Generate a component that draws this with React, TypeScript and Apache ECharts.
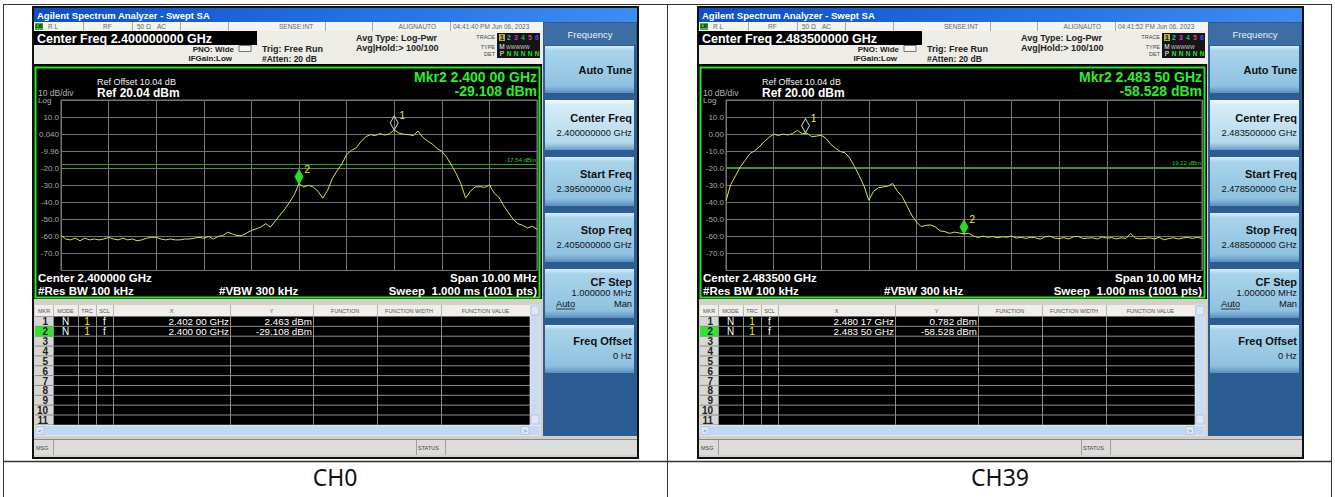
import React, { useEffect, useRef } from "react";
import * as echarts from "echarts";

const UI_FONT = "'Liberation Sans', Arial, Helvetica, sans-serif";
const CAPTION_FONT = "'Noto Sans', 'Open Sans', sans-serif";

// ------------------------------------------------------------------ data
const channelNames = ["CH0", "CH39"];
const timestamps = ["04:41:40 PM Jun 06, 2023", "04:41:52 PM Jun 06, 2023"];
const centerFreqLong = ["2.400000000 GHz", "2.483500000 GHz"];
const startFreqLong = ["2.395000000 GHz", "2.478500000 GHz"];
const stopFreqLong = ["2.405000000 GHz", "2.488500000 GHz"];
const centerFreqShort = ["2.400000 GHz", "2.483500 GHz"];
const refOffsetText = "Ref Offset 10.04 dB";
const refLevels = [20.04, 20.0];
const refLevelText = ["Ref 20.04 dBm", "Ref 20.00 dBm"];
const displayLineLevels = [-17.54, -19.22];
const displayLineText = ["-17.54 dBm", "-19.22 dBm"];
const activeMarkerFreqText = ["Mkr2 2.400 00 GHz", "Mkr2 2.483 50 GHz"];
const activeMarkerLevelText = ["-29.108 dBm", "-58.528 dBm"];

const ch0YTickLabels = ["", "10.0", "0.040", "-9.96", "-20.0", "-30.0", "-40.0", "-50.0", "-60.0", "-70.0", ""];
const ch39YTickLabels = ["", "10.0", "0.00", "-10.0", "-20.0", "-30.0", "-40.0", "-50.0", "-60.0", "-70.0", ""];

// sweep offsets from the centre frequency (MHz)
const sweepStartMHz = -5;
const sweepStepMHz = 0.1;
const spanHalfMHz = 5;

// trace level (dBm) every 0.1 MHz from start to stop
const ch0Trace = [
  -59.5, -61.5, -62, -61, -62.5, -61, -62, -61.5, -62, -61.5,
  -60.5, -61.5, -62, -61, -62, -61.5, -62.5, -62, -61, -60.5,
  -60.5, -61.5, -62, -61.5, -62, -62, -61.5, -61.5, -61, -60.5,
  -61, -60, -61.5, -60, -59.5, -57.5, -58.5, -59.5, -59.5, -58,
  -56.5, -55.5, -54.5, -52.5, -54.5, -51, -47.5, -44, -40, -35.5,
  -29.1, -31, -30, -31, -33.5, -37.5, -33, -26, -21.5, -17.5,
  -12, -9.5, -8, -4.5, -1.5, -0.3, -0.8, 0.3, -0.5, 0.2,
  2.46, 0.6, 0, -0.3, -0.8, 1.8, -1.8, -4, -5.8, -8.3,
  -10, -13.5, -18, -23, -29, -37.5, -33.5, -31, -30.8, -31.2,
  -29.8, -34.5, -37, -42, -46, -50, -52.5, -53.5, -55, -54, -55.8,
];
const ch39Trace = [
  -39, -29.5, -24.5, -19.2, -15.5, -11.5, -9.8, -7.5, -4.5, -2,
  0, -0.8, 0, -0.5, 0.3, 2.2, 0.2, 0.5, -1.5, -1.2,
  -0.6, -2.5, -6, -8.3, -10.2, -11, -14, -19, -24.5, -30.5,
  -38.8, -33.5, -31.5, -31, -30.5, -29, -33.5, -36.5, -42, -47.5,
  -51.5, -54.3, -53.5, -53.3, -54.5, -56.8, -57.2, -58.2, -57.5, -58,
  -58.5, -58.2, -59.8, -60.6, -59.8, -60.5, -60, -60.8, -60.2, -60.5,
  -59.8, -61, -60.5, -61.2, -60.5, -60.8, -61.6, -60.3, -59.8, -61,
  -61.3, -60.7, -61.5, -60.2, -60, -61.2, -61, -60.8, -61.5, -60.3,
  -61, -60.7, -61.5, -60.8, -61.2, -58.3, -61, -61.5, -61.2, -60.8,
  -61.5, -60.5, -62, -61.3, -60.8, -61.5, -60.9, -60.6, -61.2, -60.5, -61.2,
];

const ch0MarkerOffsetMHz = [2.0, 0.0];
const ch0MarkerLevel = [2.463, -29.108];
const ch39MarkerOffsetMHz = [-3.33, 0.0];
const ch39MarkerLevel = [0.782, -58.528];

const ch0MarkerXText = ["2.402 00 GHz", "2.400 00 GHz"];
const ch0MarkerYText = ["2.463 dBm", "-29.108 dBm"];
const ch39MarkerXText = ["2.480 17 GHz", "2.483 50 GHz"];
const ch39MarkerYText = ["0.782 dBm", "-58.528 dBm"];

const tableHeaders = ["MKR", "MODE", "TRC", "SCL", "X", "Y", "FUNCTION", "FUNCTION WIDTH", "FUNCTION VALUE"];
const markerRowNumbers = ["1", "2", "3", "4", "5", "6", "7", "8", "9", "10", "11"];

const channels = [
  { trace: ch0Trace, yLabels: ch0YTickLabels, mOff: ch0MarkerOffsetMHz, mLev: ch0MarkerLevel, mX: ch0MarkerXText, mY: ch0MarkerYText },
  { trace: ch39Trace, yLabels: ch39YTickLabels, mOff: ch39MarkerOffsetMHz, mLev: ch39MarkerLevel, mX: ch39MarkerXText, mY: ch39MarkerYText },
];

// ------------------------------------------------------------------ layout
const panelOffsets = [0, 665];

const rect = (x: number, y: number, w: number, h: number, fill: any, z = 1, extra: any = {}) => ({
  type: "rect", silent: true, z, shape: { x, y, width: w, height: h }, style: { fill, ...extra },
});
const line = (x1: number, y1: number, x2: number, y2: number, stroke: string, lw = 1, z = 2) => ({
  type: "line", silent: true, z, shape: { x1, y1, x2, y2 }, style: { stroke, lineWidth: lw },
});
const text = (x: number, y: number, s: string, o: any = {}) => ({
  type: "text", silent: true, z: o.z ?? 3, x, y,
  style: {
    text: s, fill: o.fill ?? "#000", fontSize: o.size ?? 9, fontWeight: o.weight ?? "normal",
    fontFamily: o.family ?? UI_FONT, align: o.align ?? "left", textAlign: o.align ?? "left",
    verticalAlign: "middle", textVerticalAlign: "middle",
  },
});

function panelGraphics(k: number, dx: number) {
  const X = (x: number) => x + dx;
  const ch = channels[k];
  const g: any[] = [];
  // window frame
  g.push(rect(X(33), 7, 605, 451, "#d4d0c8", 1, { stroke: "#111", lineWidth: 2 }));
  // title bar
  g.push(rect(X(34), 8, 603, 14, new echarts.graphic.LinearGradient(0, 0, 1, 0, [
    { offset: 0, color: "#0d4fc8" }, { offset: 0.55, color: "#2470e4" }, { offset: 1, color: "#3c8ef2" },
  ]), 1));
  g.push(text(X(37), 15, "Agilent Spectrum Analyzer - Swept SA", { fill: "#fff", size: 9.5, weight: "bold" }));
  // status row
  g.push(rect(X(34), 22, 509, 9, "#f4f3ee", 1));
  [83, 132, 180, 228, 325, 372, 450].forEach((sx) => g.push(line(X(sx) + 0.5, 22, X(sx) + 0.5, 31, "#a8a8a8")));
  g.push(rect(X(35), 23, 8, 7, "#3cb83c", 2));
  g.push(text(X(39), 26.5, "LXI", { size: 4.5, align: "center", weight: "bold" }));
  const st = { size: 6.5, fill: "#666" };
  g.push(text(X(48), 26.5, "R L", st));
  g.push(text(X(103), 26.5, "RF", st));
  g.push(text(X(137), 26.5, "50 Ω", st));
  g.push(text(X(157), 26.5, "AC", st));
  g.push(text(X(279), 26.5, "SENSE:INT", st));
  g.push(text(X(436), 26.5, "ALIGNAUTO", { ...st, align: "right" }));
  g.push(text(X(453), 26.5, timestamps[k], st));
  // settings header
  g.push(rect(X(34), 31, 509, 33, "#edece6", 1));
  g.push(rect(X(34), 31, 223, 14, "#000", 2));
  g.push(text(X(37), 38.5, "Center Freq " + centerFreqLong[k], { fill: "#fff", size: 12.5, weight: "bold" }));
  const sb = { size: 8, weight: "bold", fill: "#222" };
  g.push(text(X(234), 49, "PNO: Wide", { ...sb, align: "right" }));
  g.push(text(X(232), 58.5, "IFGain:Low", { ...sb, align: "right" }));
  g.push(rect(X(239), 45.5, 12, 6, "#f4f4f4", 2, { stroke: "#555", lineWidth: 0.8 }));
  g.push(text(X(262), 48.5, "Trig: Free Run", { size: 9, weight: "bold", fill: "#222" }));
  g.push(text(X(262), 58.5, "#Atten: 20 dB", { size: 8.5, weight: "bold", fill: "#222" }));
  g.push(text(X(356), 37.5, "Avg Type: Log-Pwr", { size: 9, weight: "bold", fill: "#222" }));
  g.push(text(X(356), 47.5, "Avg|Hold:> 100/100", { size: 9, weight: "bold", fill: "#222" }));
  g.push(text(X(495), 37, "TRACE", { size: 5.5, fill: "#444", align: "right" }));
  g.push(text(X(495), 46.5, "TYPE", { size: 5.5, fill: "#444", align: "right" }));
  g.push(text(X(495), 53.5, "DET", { size: 5.5, fill: "#444", align: "right" }));
  g.push(rect(X(497), 33, 43, 25, "#151515", 2));
  g.push(rect(X(499), 34, 6, 7, "#b4ae3c", 3));
  const tColors = ["#111", "#22c0c0", "#c040c0", "#22b060", "#d04488", "#4a4aff"];
  tColors.forEach((c, i) => g.push(text(X(502 + i * 7), 37.5, String(i + 1), { size: 7, fill: c, align: "center", weight: "bold", z: 4 })));
  g.push(text(X(502), 46.5, "M", { size: 6.5, fill: "#fff", align: "center" }));
  g.push(text(X(506), 46.5, "WWWWW", { size: 5, fill: "#cfcfcf" }));
  g.push(text(X(502), 53.5, "P", { size: 6.5, fill: "#fff", align: "center" }));
  for (let i = 1; i < 6; i++) g.push(text(X(502 + i * 7), 53.5, "N", { size: 6.5, fill: "#2edc2e", align: "center", weight: "bold" }));
  // plot region
  g.push(rect(X(34), 64, 508, 235, "#000", 1));
  g.push(rect(X(35.5), 67.5, 504, 230, "none", 2, { stroke: "#27e627", lineWidth: 2 }));
  g.push(text(X(97), 82, refOffsetText, { size: 9, fill: "#f2f2f2" }));
  g.push(text(X(38), 93, "10 dB/div", { size: 8.5, fill: "#b4b4b4" }));
  g.push(text(X(97), 92.5, refLevelText[k], { size: 12, fill: "#fff", weight: "bold" }));
  g.push(text(X(38), 100.5, "Log", { size: 8, fill: "#b4b4b4" }));
  g.push(text(X(537), 76.5, activeMarkerFreqText[k], { size: 14, weight: "bold", fill: "#2cee2c", align: "right" }));
  g.push(text(X(537), 91, activeMarkerLevelText[k], { size: 14, weight: "bold", fill: "#2cee2c", align: "right" }));
  const bt = { size: 11.5, weight: "bold", fill: "#fff" };
  g.push(text(X(38), 278, "Center " + centerFreqShort[k], bt));
  g.push(text(X(537), 278, "Span 10.00 MHz", { ...bt, align: "right" }));
  g.push(text(X(38), 291, "#Res BW 100 kHz", bt));
  g.push(text(X(219), 291, "#VBW 300 kHz", bt));
  g.push(text(X(537), 291, "Sweep  1.000 ms (1001 pts)", { ...bt, align: "right" }));
  // marker table
  const cols = [35, 53, 78, 96, 113, 230, 313, 377, 441, 530];
  const bodyTop = 316.5, rowH = 9.85, nRows = 11;
  const bodyBottom = bodyTop + rowH * nRows;
  g.push(rect(X(35), 305, 505, 11.5, "#efeee8", 1));
  for (let c = 1; c < cols.length; c++) g.push(line(X(cols[c]) + 0.5, 305, X(cols[c]) + 0.5, 316.5, "#b8b8b0"));
  tableHeaders.forEach((h, c) => g.push(text(X((cols[c] + cols[c + 1]) / 2), 310.5, h, { size: 5.5, fill: "#555", align: "center" })));
  g.push(rect(X(35), bodyTop, 495, rowH * nRows, "#000", 1));
  g.push(rect(X(35), bodyTop, 18, rowH * nRows, "#d6d6d2", 2));
  g.push(rect(X(35), bodyTop + rowH, 18, rowH, "#2ee62e", 2));
  for (let r = 1; r < nRows; r++) g.push(line(X(35), bodyTop + rowH * r, X(530), bodyTop + rowH * r, "#8c8c8c", 1, 3));
  for (let c = 1; c < cols.length - 1; c++) g.push(line(X(cols[c]) + 0.5, bodyTop, X(cols[c]) + 0.5, bodyBottom, "#8c8c8c", 1, 3));
  markerRowNumbers.forEach((n, r) => g.push(text(X(48), bodyTop + rowH * r + rowH / 2 + 0.5, n, { size: 10, weight: "bold", fill: "#222", align: "right", z: 4 })));
  for (let r = 0; r < 2; r++) {
    const cy = bodyTop + rowH * r + rowH / 2 + 0.5;
    g.push(text(X(65.5), cy, "N", { size: 10, fill: "#fff", align: "center", z: 4 }));
    g.push(text(X(87), cy, "1", { size: 10, fill: "#f0f030", align: "center", z: 4 }));
    g.push(text(X(104.5), cy, "f", { size: 10, fill: "#fff", align: "center", z: 4 }));
    g.push(text(X(229), cy, ch.mX[r], { size: 9.8, fill: "#fff", align: "right", z: 4 }));
    g.push(text(X(312), cy, ch.mY[r], { size: 9.8, fill: "#fff", align: "right", z: 4 }));
  }
  // scrollbars
  g.push(rect(X(530), 305, 10, 120, "#cbdcf2", 2, { stroke: "#e8f0fa", lineWidth: 0.6 }));
  g.push(rect(X(531), 306, 8, 9, "#dde8f6", 3, { stroke: "#9ab4da", lineWidth: 0.6 }));
  g.push(rect(X(531), 415, 8, 9, "#dde8f6", 3, { stroke: "#9ab4da", lineWidth: 0.6 }));
  g.push(rect(X(35), 425.5, 505, 10, "#c3d8f4", 2, { stroke: "#eef3fb", lineWidth: 0.6 }));
  g.push(rect(X(36), 426.5, 8, 8, "#dde8f6", 3, { stroke: "#9ab4da", lineWidth: 0.6 }));
  g.push(rect(X(521), 426.5, 8, 8, "#dde8f6", 3, { stroke: "#9ab4da", lineWidth: 0.6 }));
  g.push(text(X(40), 430.5, "<", { size: 6, fill: "#3a5fa0", align: "center", z: 4 }));
  g.push(text(X(525), 430.5, ">", { size: 6, fill: "#3a5fa0", align: "center", z: 4 }));
  // msg bar
  g.push(rect(X(34), 440, 603, 15, "#dcdcda", 1));
  g.push(line(X(34), 439.5, X(637), 439.5, "#8a8a8a"));
  [53, 416, 445].forEach((sx) => g.push(line(X(sx) + 0.5, 440, X(sx) + 0.5, 455, "#a0a0a0")));
  g.push(text(X(36), 447.5, "MSG", { size: 5.5, fill: "#444" }));
  g.push(text(X(418), 447.5, "STATUS", { size: 5.5, fill: "#444" }));
  // softkey panel
  g.push(rect(X(543), 22, 94, 414, "#2c5d92", 1));
  g.push(rect(X(544), 23, 92, 22, "#3c6ea3", 2));
  g.push(text(X(590), 34, "Frequency", { size: 9.5, fill: "#e4f1fb", align: "center" }));
  const keys: [number, number, boolean][] = [[46, 93, false], [100, 150, true], [157, 206, false], [213, 262, false], [269, 318, false], [325, 373, false]];
  keys.forEach(([y0, y1, sel]) => {
    g.push(rect(X(545), y0, 89, y1 - y0, new echarts.graphic.LinearGradient(0, 0, 0, 1, sel ? [
      { offset: 0, color: "#f2fafd" }, { offset: 0.1, color: "#d6ecf6" }, { offset: 0.85, color: "#b4d9ec" }, { offset: 1, color: "#6b9cc8" },
    ] : [
      { offset: 0, color: "#d8eef8" }, { offset: 0.1, color: "#a9d3ea" }, { offset: 0.85, color: "#8fc2e0" }, { offset: 1, color: "#5b8dbf" },
    ]), 2));
  });
  const kt = { size: 11, weight: "bold", fill: "#111", align: "right" };
  const kv = { size: 9.3, fill: "#111", align: "right" };
  g.push(text(X(632), 70, "Auto Tune", kt));
  g.push(text(X(632), 118, "Center Freq", kt));
  g.push(text(X(632), 133, centerFreqLong[k], kv));
  g.push(text(X(632), 174, "Start Freq", kt));
  g.push(text(X(632), 189, startFreqLong[k], kv));
  g.push(text(X(632), 230, "Stop Freq", kt));
  g.push(text(X(632), 245, stopFreqLong[k], kv));
  g.push(text(X(632), 282, "CF Step", kt));
  g.push(text(X(632), 293, "1.000000 MHz", kv));
  g.push(text(X(556), 304, "Auto", { size: 9.3, fill: "#111" }));
  g.push(line(X(556), 309, X(575), 309, "#111", 0.8, 3));
  g.push(text(X(632), 304, "Man", kv));
  g.push(text(X(632), 341, "Freq Offset", kt));
  g.push(text(X(632), 356, "0 Hz", kv));
  return g;
}

function buildOption() {
  const graphics: any[] = [];
  // outer table lines
  graphics.push(line(3, 4.5, 1332, 4.5, "#333", 1, 0));
  graphics.push(line(3.5, 4, 3.5, 497, "#333", 1, 0));
  graphics.push(line(667.5, 4, 667.5, 497, "#333", 1, 0));
  graphics.push(line(1331.5, 4, 1331.5, 497, "#333", 1, 0));
  graphics.push(line(3, 461.5, 1332, 461.5, "#333", 1.5, 0));
  panelOffsets.forEach((dx, k) => graphics.push(...panelGraphics(k, dx)));
  channelNames.forEach((n, k) => graphics.push(text(k === 0 ? 335 : 1000, 477, n, { size: 23, family: CAPTION_FONT, fill: "#111", align: "center" })));

  const grid = panelOffsets.map((dx) => ({
    left: 61 + dx, top: 100, width: 476, height: 170.5, show: true,
    borderColor: "#7a7a7a", borderWidth: 1, backgroundColor: "transparent", z: 4,
  }));
  const xAxis = panelOffsets.map((_, k) => ({
    gridIndex: k, type: "value", min: -spanHalfMHz, max: spanHalfMHz, interval: 1, z: 4,
    axisLine: { show: false }, axisTick: { show: false }, axisLabel: { show: false },
    splitLine: { show: true, lineStyle: { color: "#747474", width: 1 } },
  }));
  const yAxis = panelOffsets.map((_, k) => ({
    gridIndex: k, type: "value", min: -100, max: 0, interval: 10, z: 4,
    axisLine: { show: false }, axisTick: { show: false },
    axisLabel: {
      show: true, color: "#a8a8a8", fontSize: 8, margin: 2, fontFamily: UI_FONT,
      formatter: (v: number) => channels[k].yLabels[Math.round(-v / 10)] ?? "",
    },
    splitLine: { show: true, lineStyle: { color: "#747474", width: 1 } },
  }));
  const series = channels.map((ch, k) => {
    const ref = refLevels[k];
    return {
      type: "line", xAxisIndex: k, yAxisIndex: k, z: 6, silent: true,
      showSymbol: false, symbol: "none",
      lineStyle: { color: "#e2e244", width: 1 },
      data: ch.trace.map((v, i) => [sweepStartMHz + i * sweepStepMHz, v - ref]),
      markLine: {
        silent: true, symbol: "none",
        lineStyle: { color: "#22a822", width: 1, type: "solid" },
        label: { show: true, position: "insideEndTop", formatter: displayLineText[k], color: "#2ad22a", fontSize: 6, distance: 1, fontFamily: UI_FONT },
        data: [{ yAxis: displayLineLevels[k] - ref }],
      },
      markPoint: {
        silent: true,
        data: ch.mOff.map((off, m) => ({
          coord: [off, ch.mLev[m] - ref],
          symbol: "diamond", symbolSize: [8, 14], symbolOffset: [0, -7],
          itemStyle: m === 0
            ? { color: "rgba(0,0,0,0)", borderColor: "#cfcfcf", borderWidth: 1 }
            : { color: "#25e025", borderColor: "#25e025", borderWidth: 1 },
          label: {
            show: true, formatter: String(m + 1), position: "right", distance: 1, offset: [0, -7],
            color: "#f0ee30", fontSize: 10, fontFamily: UI_FONT,
          },
        })),
      },
    };
  });

  return {
    animation: false,
    backgroundColor: "#ffffff",
    grid, xAxis, yAxis, series,
    graphic: { elements: graphics },
  };
}

export default function App() {
  const ref = useRef<HTMLDivElement>(null);
  useEffect(() => {
    if (!ref.current) return;
    const chart = echarts.init(ref.current, null, { renderer: "svg" });
    chart.setOption(buildOption() as any);
    return () => chart.dispose();
  }, []);
  return (
    <div
      ref={ref}
      style={{ position: "fixed", left: 0, top: 0, width: 1335, height: 497, background: "#fff" }}
    />
  );
}
